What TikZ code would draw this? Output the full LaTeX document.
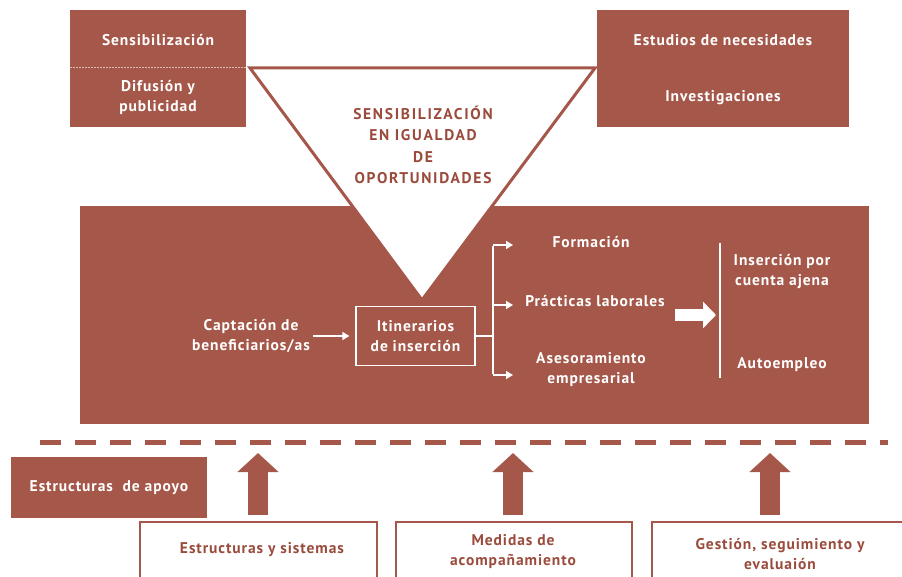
\documentclass[tikz,border=0pt]{standalone}
\usepackage{fontspec}
\setmainfont{PT Sans}
\usetikzlibrary{arrows.meta}
\definecolor{brn}{HTML}{A5584A}
\definecolor{brt}{HTML}{9A4B3C}
\begin{document}
\begin{tikzpicture}[x=1pt,y=-1pt,
  lbl/.style={font=\bfseries\fontsize{15.5}{20}\selectfont\addfontfeature{LetterSpace=6}, text=white, align=center, inner sep=0pt},
  blbl/.style={lbl, text=brt},
  tlbl/.style={blbl, font=\bfseries\fontsize{15.5}{21.5}\selectfont\addfontfeature{LetterSpace=11}},
  wline/.style={draw=white, line width=1.6pt},
  warr/.style={wline, -{Triangle[length=7pt,width=8pt]}},
  bigarr/.style={draw=white, line width=12pt, -{Triangle[length=13pt,width=26pt]}},
  uparr/.style={draw=brn, line width=20pt, -{Triangle[length=19pt,width=40pt]}},
  outbox/.style={draw=brn, line width=1.5pt},
  ]
\useasboundingbox (0,0) rectangle (902,577);
% top boxes
\fill[brn] (70,10) rectangle (246,127);
\draw[white!60!brn, line width=1pt, dash pattern=on 2pt off 1pt] (70,68) -- (246,68);
\fill[brn] (597,10) rectangle (849,127);
% big box
\fill[brn] (80,206) rectangle (869,424);
% triangle
\filldraw[fill=white, draw=brn, line width=3pt, line join=miter] (250,68) -- (595,68) -- (422,300) -- cycle;
% top texts
\node[lbl] (sens) at (158,40) {Sensibilización};
\node[lbl] (dif) at (158,97) {Difusión y\\publicidad};
\node[lbl] (est) at (723,40) {Estudios de necesidades};
\node[lbl] (inv) at (723,98) {Investigaciones};
\node[tlbl] (tri) at (423,145) {SENSIBILIZACIÓN\\EN IGUALDAD\\DE\\OPORTUNIDADES};
% main flow
\node[lbl] (cap) at (251,336) {Captación de\\beneficiarios/as};
\node[lbl, draw=white, line width=1.2pt, minimum width=119pt, minimum height=59pt] (iti) at (415.5,336) {Itinerarios\\de inserción};
\draw[warr, shorten <=3pt, shorten >=6pt] (cap.east) -- (iti.west);
\coordinate (br) at (493,336);
\coordinate (btop) at (493,245);
\coordinate (bmid) at (493,305);
\coordinate (bbot) at (493,375);
\coordinate (a1) at (513,245);
\coordinate (a2) at (513,305);
\coordinate (a3) at (513,375);
\draw[wline] (iti.east) -- (br);
\draw[wline] ([yshift=-0.8pt]btop) -- ([yshift=0.8pt]bbot);
\draw[warr] (btop) -- (a1);
\draw[warr] (bmid) -- (a2);
\draw[warr] (bbot) -- (a3);
\node[lbl] (form) at (591,242) {Formación};
\node[lbl] (prac) at (595,301) {Prácticas laborales};
\node[lbl] (ases) at (591,370) {Asesoramiento\\empresarial};
\coordinate (ba1) at (675,315);
\coordinate (ba2) at (716,315);
\draw[bigarr] (ba1) -- (ba2);
\coordinate (vt) at (720,243);
\coordinate (vb) at (720,378);
\draw[wline] (vt) -- (vb);
\node[lbl] (ins) at (782,272) {Inserción por\\cuenta ajena};
\node[lbl] (auto) at (782,365) {Autoempleo};
% dashed separator
\coordinate (dl) at (40,442);
\coordinate (dr) at (888,442);
\draw[brn, line width=5pt, dash pattern=on 21pt off 14pt] (dl) -- (dr);
% support structures
\node[lbl, fill=brn, minimum width=196pt, minimum height=61pt] (apoyo) at (109,487.5) {Estructuras\ \ de apoyo};
% up arrows
\coordinate (u1b) at (258,515); \coordinate (u1t) at (258,453);
\coordinate (u2b) at (513,515); \coordinate (u2t) at (513,453);
\coordinate (u3b) at (770,515); \coordinate (u3t) at (770,453);
\draw[uparr] (u1b) -- (u1t);
\draw[uparr] (u2b) -- (u2t);
\draw[uparr] (u3b) -- (u3t);
% bottom boxes
\draw[outbox] (140,578) -- (140,522) -- (377,522) -- (377,578);
\draw[outbox] (396,578) -- (396,522) -- (632,522) -- (632,578);
\draw[outbox] (652,578) -- (652,522) -- (905,522);
\node[blbl] (es) at (262,550) {Estructuras y sistemas};
\node[blbl] (med) at (513,552) {Medidas de\\acompañamiento};
\node[blbl] (ges) at (780,554) {Gestión, seguimiento y\\evaluaión};
\end{tikzpicture}
\end{document}
